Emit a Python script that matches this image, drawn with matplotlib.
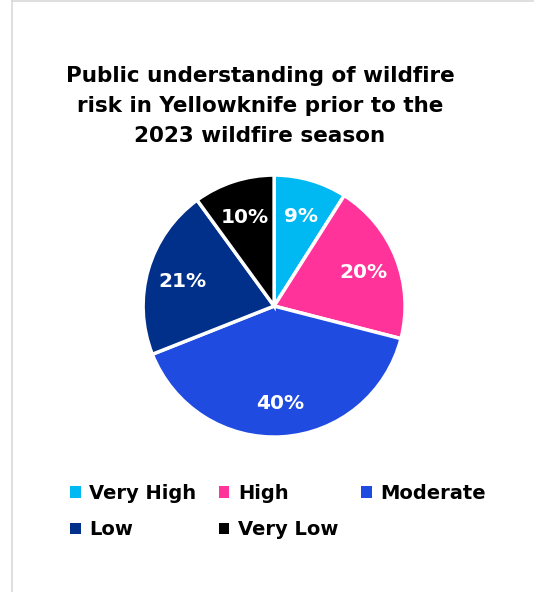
import matplotlib
matplotlib.use("Agg")
import matplotlib.pyplot as plt
from matplotlib.patches import Patch
from matplotlib.lines import Line2D

categories = ["Very High", "High", "Moderate", "Low", "Very Low"]
values = [9, 20, 40, 21, 10]
colors = ["#00B9F2", "#FF3399", "#204BE0", "#00308A", "#000000"]
title = "Public understanding of wildfire\nrisk in Yellowknife prior to the\n2023 wildfire season"

plt.rcParams['font.family'] = ['DejaVu Sans']
fig = plt.figure(figsize=(5.34, 5.92), dpi=100)
fig.patch.set_facecolor("white")

# thin frame lines (left and top)
fig.add_artist(Line2D([12/534, 12/534], [0, 1], color="#d9d9d9", lw=1.2, transform=fig.transFigure))
fig.add_artist(Line2D([12/534, 1], [1-1/592, 1-1/592], color="#d9d9d9", lw=1.2, transform=fig.transFigure))

ax = fig.add_axes([0.268, 0.2617, 0.4906, 0.4426])
wedges, texts, autotexts = ax.pie(
    values, colors=colors, startangle=90, counterclock=False,
    autopct=lambda p: f"{p:.0f}%", pctdistance=0.73,
    wedgeprops=dict(edgecolor="white", linewidth=2.5),
    textprops=dict(color="white", fontsize=14.5, fontweight="bold"))
for t in autotexts:
    t.set_va("center_baseline")
ax.set_xlim(-1, 1)
ax.set_ylim(-1, 1)
ax.set_aspect("equal")

fig.text(260/534, 1-106/592, title, ha="center", va="center",
         fontsize=15.5, fontweight="bold", linespacing=1.6)

# legend filled row-wise like the reference (matplotlib fills column-wise)
order = [0, 3, 1, 4, 2]
handles = [Patch(facecolor=colors[i], edgecolor="none") for i in order]
labels = [categories[i] for i in order]
leg = fig.legend(handles, labels, ncol=3, loc="upper left",
                 bbox_to_anchor=(64/534, 1-478/592), frameon=False,
                 prop=dict(size=14, weight="bold"), handlelength=0.55,
                 handleheight=0.55, handletextpad=0.45, columnspacing=1.15,
                 labelspacing=0.9, borderaxespad=0, borderpad=0.3)

fig.savefig("out.png", dpi=100, facecolor="white")
